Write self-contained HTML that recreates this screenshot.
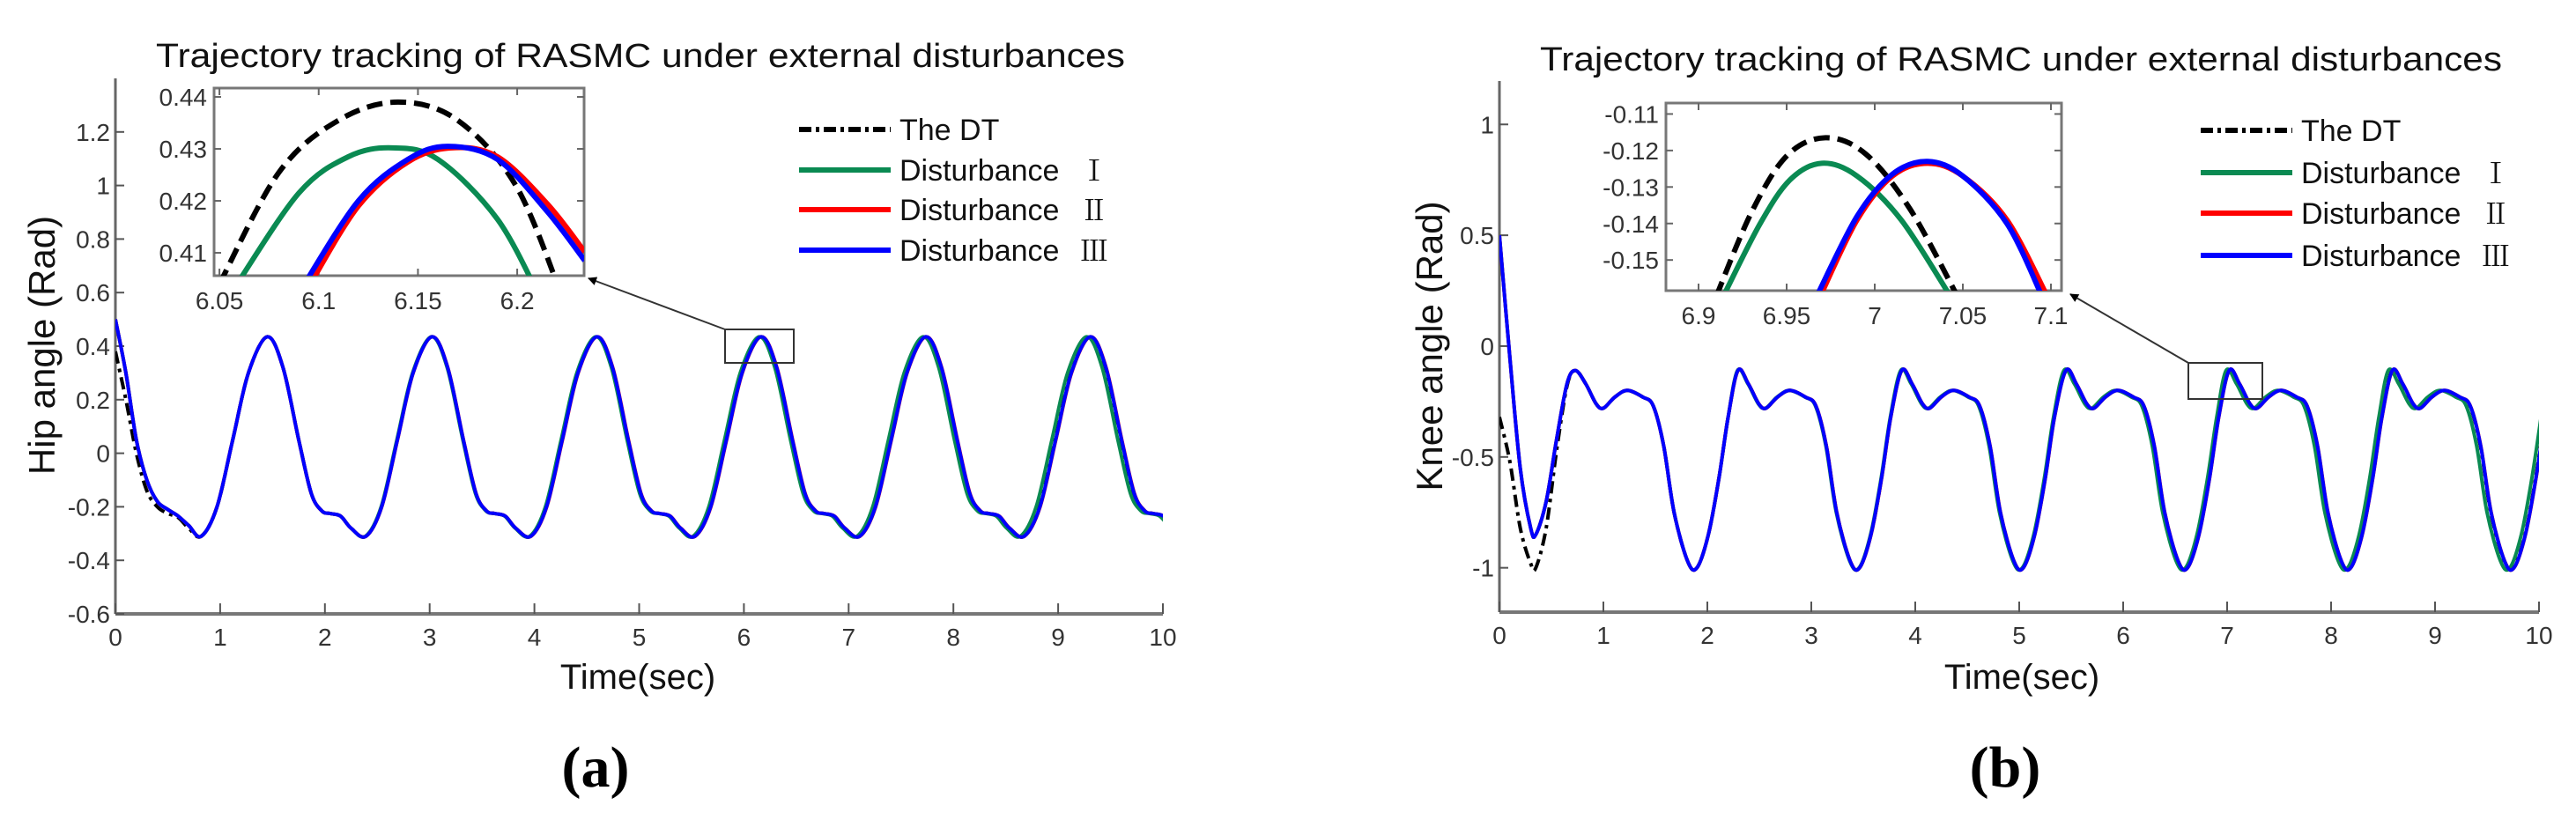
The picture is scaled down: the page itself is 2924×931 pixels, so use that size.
<!DOCTYPE html>
<html><head><meta charset="utf-8">
<style>
html,body{margin:0;padding:0;background:#fff;}
svg{display:block;font-family:"Liberation Sans",sans-serif;}
.tk{font-size:28px;fill:#333;}
.ttl{font-size:38px;fill:#111;}
.lg{font-size:34px;fill:#111;}
.rn{font-family:"Noto Serif CJK SC","Liberation Serif",serif;font-size:32px;}
</style></head>
<body>
<svg id="fig" width="2924" height="931" viewBox="0 0 2924 931" xmlns="http://www.w3.org/2000/svg">
<defs>
<clipPath id="clipA"><rect x="131" y="80" width="1189" height="620"/></clipPath>
<clipPath id="clipB"><rect x="1702" y="85" width="1180" height="612"/></clipPath>
<clipPath id="clipAi"><rect x="243" y="100" width="420" height="213"/></clipPath>
<clipPath id="clipBi"><rect x="1891" y="117" width="449" height="213"/></clipPath>
<marker id="arr" markerWidth="10" markerHeight="10" refX="9" refY="5" orient="auto" markerUnits="userSpaceOnUse"><path d="M0,0 L10,5 L0,10 Z" fill="#000"/></marker>
</defs>
<g id="root"></g>
</svg>
<script>
// ---------- HIP data (panel a) ----------
const hipStartT = [0, 0.1, 0.2, 0.3, 0.4, 0.5, 0.6, 0.7];
const hipStartDT = [0.38, 0.2, 0.0, -0.14, -0.2, -0.225, -0.24, -0.28];
const hipStartDist = [0.5, 0.3, 0.05, -0.1, -0.18, -0.21, -0.235, -0.27];
const hipTroughsDT = [0.82, 2.39, 3.963, 5.53, 7.103, 8.672];
const hipTroughsD1 = [0.82, 2.387, 3.955, 5.515, 7.08, 8.64];
const hipTroughsD2 = [0.82, 2.393, 3.968, 5.535, 7.108, 8.678];
const hipTroughsD3 = [0.82, 2.392, 3.966, 5.533, 7.106, 8.676];
const hipTroughValue = -0.31;
const hipCycleOffsets = [0.15, 0.30, 0.45, 0.63, 0.78, 0.93, 1.05, 1.15, 1.23, 1.33, 1.43];
const hipCycleValues = [-0.2, 0.05, 0.3, 0.435, 0.32, 0.05, -0.15, -0.215, -0.225, -0.235, -0.28];
const hipXTicks = [0,1,2,3,4,5,6,7,8,9,10];
const hipYTicks = [-0.6,-0.4,-0.2,0,0.2,0.4,0.6,0.8,1,1.2];
const hipYTickLabels = ["-0.6","-0.4","-0.2","0","0.2","0.4","0.6","0.8","1","1.2"];
// hip inset
const hipInT_DT = [6.05, 6.08, 6.11, 6.14, 6.17, 6.2, 6.225];
const hipInV_DT = [0.404, 0.4255, 0.4355, 0.439, 0.4355, 0.4225, 0.399];
const hipInT_D1 = [6.058, 6.09, 6.115, 6.137, 6.16, 6.19, 6.212];
const hipInV_D1 = [0.4035, 0.4215, 0.4285, 0.4302, 0.428, 0.4165, 0.401];
const hipInT_D2 = [6.095, 6.12, 6.145, 6.167, 6.19, 6.215, 6.234];
const hipInV_D2 = [0.4035, 0.419, 0.4275, 0.4302, 0.4285, 0.4195, 0.4102];
const hipInT_D3 = [6.092, 6.12, 6.145, 6.165, 6.19, 6.215, 6.234];
const hipInV_D3 = [0.4035, 0.42, 0.428, 0.4305, 0.428, 0.418, 0.4085];
const hipInXTicks = [6.05, 6.1, 6.15, 6.2];
const hipInYTicks = [0.41, 0.42, 0.43, 0.44];

// ---------- KNEE data (panel b) ----------
const kneeStartT = [0, 0.1, 0.2, 0.3, 0.35, 0.45, 0.55, 0.65];
const kneeStartDT = [-0.32, -0.52, -0.82, -0.98, -1.0, -0.82, -0.47, -0.18];
const kneeStartDist = [0.5, -0.05, -0.55, -0.82, -0.85, -0.7, -0.42, -0.17];
const kneePeaksDT = [0.73, 2.294, 3.868, 5.447, 7.017, 8.586];
const kneePeaksD1 = [0.73, 2.29, 3.86, 5.43, 6.99, 8.55];
const kneePeaksD2 = [0.73, 2.295, 3.87, 5.45, 7.02, 8.59];
const kneePeaksD3 = [0.73, 2.294, 3.869, 5.449, 7.019, 8.589];
const kneePeakValue = -0.11;
const kneeCycleOffsets = [0.1, 0.2, 0.27, 0.38, 0.5, 0.65, 0.75, 0.85, 0.95, 1.08, 1.17, 1.28, 1.38, 1.47];
const kneeCycleValues = [-0.17, -0.26, -0.28, -0.23, -0.2, -0.23, -0.27, -0.45, -0.75, -0.97, -1.0, -0.85, -0.6, -0.32];
const kneeXTicks = [0,1,2,3,4,5,6,7,8,9,10];
const kneeYTicks = [-1, -0.5, 0, 0.5, 1];
const kneeYTickLabels = ["-1","-0.5","0","0.5","1"];
// knee inset
const kneeInT_DT = [6.91, 6.93, 6.95, 6.972, 6.995, 7.02, 7.047];
const kneeInV_DT = [-0.16, -0.137, -0.1215, -0.1165, -0.121, -0.136, -0.16];
const kneeInT_D1 = [6.914, 6.935, 6.952, 6.97, 6.99, 7.015, 7.043];
const kneeInV_D1 = [-0.16, -0.14, -0.128, -0.1235, -0.127, -0.139, -0.16];
const kneeInT_D2 = [6.969, 6.99, 7.01, 7.03, 7.05, 7.075, 7.098];
const kneeInV_D2 = [-0.16, -0.139, -0.127, -0.1235, -0.127, -0.139, -0.16];
const kneeInT_D3 = [6.967, 6.99, 7.01, 7.03, 7.05, 7.075, 7.095];
const kneeInV_D3 = [-0.16, -0.138, -0.1265, -0.123, -0.127, -0.14, -0.16];
const kneeInXTicks = [6.9, 6.95, 7, 7.05, 7.1];
const kneeInYTicks = [-0.15, -0.14, -0.13, -0.12, -0.11];

const NS = "http://www.w3.org/2000/svg";
const root = document.getElementById("root");
function mk(tag, attrs, parent) {
  const e = document.createElementNS(NS, tag);
  for (const k in attrs) e.setAttribute(k, attrs[k]);
  (parent || root).appendChild(e);
  return e;
}
function smoothPath(pts) {
  let d = "M" + pts[0][0].toFixed(2) + "," + pts[0][1].toFixed(2);
  for (let i = 0; i < pts.length - 1; i++) {
    const p0 = pts[Math.max(0, i - 1)], p1 = pts[i], p2 = pts[i + 1], p3 = pts[Math.min(pts.length - 1, i + 2)];
    const c1x = p1[0] + (p2[0] - p0[0]) / 6, c1y = p1[1] + (p2[1] - p0[1]) / 6;
    const c2x = p2[0] - (p3[0] - p1[0]) / 6, c2y = p2[1] - (p3[1] - p1[1]) / 6;
    d += " C" + c1x.toFixed(2) + "," + c1y.toFixed(2) + " " + c2x.toFixed(2) + "," + c2y.toFixed(2) + " " + p2[0].toFixed(2) + "," + p2[1].toFixed(2);
  }
  return d;
}
function hipSeries(startV, troughs) {
  const pts = [];
  for (let i = 0; i < hipStartT.length; i++) pts.push([hipStartT[i], startV[i]]);
  for (let c = 0; c < troughs.length; c++) {
    pts.push([troughs[c], hipTroughValue]);
    for (let j = 0; j < hipCycleOffsets.length; j++) pts.push([troughs[c] + hipCycleOffsets[j], hipCycleValues[j]]);
  }
  return pts;
}
function kneeSeries(startV, peaks) {
  const pts = [];
  for (let i = 0; i < kneeStartT.length; i++) pts.push([kneeStartT[i], startV[i]]);
  for (let c = 0; c < peaks.length; c++) {
    pts.push([peaks[c], kneePeakValue]);
    for (let j = 0; j < kneeCycleOffsets.length; j++) pts.push([peaks[c] + kneeCycleOffsets[j], kneeCycleValues[j]]);
  }
  return pts;
}
function zipPts(ts, vs) { return ts.map((t, i) => [t, vs[i]]); }
const COLORS = { dt: "#000000", d1: "#0a8a52", d2: "#ff0000", d3: "#0000ff" };

// ---------- Axis functions ----------
const axA = { x: t => 131 + t * 118.9, y: v => 697 - (v + 0.6) * 304 };
const axB = { x: t => 1702 + t * 118.0, y: v => 695 - (v + 1.2) * 251.7 };
const axAi = { x: t => 243 + (t - 6.0473) / (6.2337 - 6.0473) * 420, y: v => 100 + (0.4417 - v) / (0.4417 - 0.4056) * 213 };
const axBi = { x: t => 1891 + (t - 6.8815) / (7.106 - 6.8815) * 449, y: v => 117 + (-0.107 - v) / (-0.107 + 0.1584) * 213 };

function drawLine(ax, pts, color, width, dash, clip, name) {
  const p = mk("path", { d: smoothPath(pts.map(q => [ax.x(q[0]), ax.y(q[1])])), fill: "none", stroke: color, "stroke-width": width, "stroke-linejoin": "round", "clip-path": "url(#" + clip + ")" });
  if (dash) p.setAttribute("stroke-dasharray", dash);
  
  
  return p;
}

function panelMain(ax, x0, x1, yTop, yBot, xTicks, yTicks, yLabels, prefix) {
  const g = mk("g", {});
  
  
  mk("line", { x1: x0, y1: yTop, x2: x0, y2: yBot, stroke: "#666", "stroke-width": 3 }, g);
  mk("line", { x1: x0, y1: yBot, x2: x1, y2: yBot, stroke: "#777", "stroke-width": 4 }, g);
  xTicks.forEach(t => {
    mk("line", { x1: ax.x(t), y1: yBot, x2: ax.x(t), y2: yBot - 12, stroke: "#555", "stroke-width": 2 }, g);
    const tx = mk("text", { x: ax.x(t), y: yBot + 36, "text-anchor": "middle", class: "tk" }, g);
    tx.textContent = String(t);
    
    
  });
  yTicks.forEach((v, i) => {
    mk("line", { x1: x0, y1: ax.y(v), x2: x0 + 10, y2: ax.y(v), stroke: "#555", "stroke-width": 2 }, g);
    const ty = mk("text", { x: x0 - 6, y: ax.y(v) + 10, "text-anchor": "end", class: "tk" }, g);
    ty.textContent = yLabels[i];
    
    
  });
}
function panelInset(ax, bx, by, bw, bh, xTicks, yTicks, prefix, decimals) {
  const g = mk("g", {});
  
  
  mk("rect", { x: bx, y: by, width: bw, height: bh, fill: "#fff", stroke: "#777", "stroke-width": 3 }, g);
  xTicks.forEach(t => {
    mk("line", { x1: ax.x(t), y1: by + bh, x2: ax.x(t), y2: by + bh - 8, stroke: "#666", "stroke-width": 2 }, g);
    mk("line", { x1: ax.x(t), y1: by, x2: ax.x(t), y2: by + 8, stroke: "#666", "stroke-width": 2 }, g);
    const tx = mk("text", { x: ax.x(t), y: by + bh + 38, "text-anchor": "middle", class: "tk" }, g);
    tx.textContent = String(t);
    
    
  });
  yTicks.forEach(v => {
    mk("line", { x1: bx, y1: ax.y(v), x2: bx + 8, y2: ax.y(v), stroke: "#666", "stroke-width": 2 }, g);
    mk("line", { x1: bx + bw, y1: ax.y(v), x2: bx + bw - 8, y2: ax.y(v), stroke: "#666", "stroke-width": 2 }, g);
    const ty = mk("text", { x: bx - 8, y: ax.y(v) + 10, "text-anchor": "end", class: "tk" }, g);
    ty.textContent = v.toFixed(decimals);
    
    
  });
}
function txt(x, y, s, cls, name, extra) {
  const t = mk("text", Object.assign({ x: x, y: y, class: cls }, extra || {}));
  t.textContent = s;
  
  
  return t;
}
function legend(x, ys, prefix) {
  const entries = [["The DT", "", COLORS.dt, "14,5,4,5"], ["Disturbance ", "\u2160", COLORS.d1, ""], ["Disturbance ", "\u2161", COLORS.d2, ""], ["Disturbance ", "\u2162", COLORS.d3, ""]];
  entries.forEach((e, i) => {
    const g = mk("g", {});
    
    
    const l = mk("line", { x1: x, y1: ys[i], x2: x + 104, y2: ys[i], stroke: e[2], "stroke-width": 6 }, g);
    if (e[3]) l.setAttribute("stroke-dasharray", e[3]);
    const t = mk("text", { x: x + 114, y: ys[i] + 12, class: "lg" }, g);
    t.appendChild(document.createTextNode(e[0]));
    if (e[1]) {
      const sp = mk("tspan", { class: "rn", dx: "14" }, t);
      sp.textContent = e[1];
    }
  });
}

// Panel a
panelMain(axA, 131, 1320, 89, 697, hipXTicks, hipYTicks, hipYTickLabels, "hip");
drawLine(axA, hipSeries(hipStartDT, hipTroughsDT), COLORS.dt, 4, "14,6,4,6", "clipA", "hip-dt-line");
drawLine(axA, hipSeries(hipStartDist, hipTroughsD1), COLORS.d1, 4, "", "clipA", "hip-disturbance-1-line");
drawLine(axA, hipSeries(hipStartDist, hipTroughsD2), COLORS.d2, 4, "", "clipA", "hip-disturbance-2-line");
drawLine(axA, hipSeries(hipStartDist, hipTroughsD3), COLORS.d3, 4, "", "clipA", "hip-disturbance-3-line");
const boxA = mk("rect", { x: 823, y: 374, width: 78, height: 38, fill: "none", stroke: "#333", "stroke-width": 2 });


const arrA = mk("line", { x1: 823, y1: 374, x2: 668, y2: 316, stroke: "#333", "stroke-width": 2, "marker-end": "url(#arr)" });


panelInset(axAi, 243, 100, 420, 213, hipInXTicks, hipInYTicks, "hip", 2);
drawLine(axAi, zipPts(hipInT_DT, hipInV_DT), COLORS.dt, 6, "18,9", "clipAi", "hip-inset-dt-line");
drawLine(axAi, zipPts(hipInT_D1, hipInV_D1), COLORS.d1, 6, "", "clipAi", "hip-inset-disturbance-1-line");
drawLine(axAi, zipPts(hipInT_D2, hipInV_D2), COLORS.d2, 6, "", "clipAi", "hip-inset-disturbance-2-line");
drawLine(axAi, zipPts(hipInT_D3, hipInV_D3), COLORS.d3, 6, "", "clipAi", "hip-inset-disturbance-3-line");
legend(907, [147, 193, 238, 284], "hip");
txt(727, 76, "Trajectory tracking of RASMC under external disturbances", "ttl", "hip-chart-title", { "text-anchor": "middle", textLength: "1100", lengthAdjust: "spacingAndGlyphs" });
txt(0, 0, "Hip angle (Rad)", "ttl", "hip-y-axis-title", { "text-anchor": "middle", transform: "translate(62,392) rotate(-90)", style: "font-size:42px" });
txt(724, 782, "Time(sec)", "ttl", "hip-x-axis-title", { "text-anchor": "middle", style: "font-size:40px" });
txt(676, 893, "(a)", "cap", "panel-a-caption", { "text-anchor": "middle", style: "font-family:'Liberation Serif',serif;font-size:66px;font-weight:bold" });

// Panel b
panelMain(axB, 1702, 2882, 92, 695, kneeXTicks, kneeYTicks, kneeYTickLabels, "knee");
drawLine(axB, kneeSeries(kneeStartDT, kneePeaksDT), COLORS.dt, 4, "14,6,4,6", "clipB", "knee-dt-line");
drawLine(axB, kneeSeries(kneeStartDist, kneePeaksD1), COLORS.d1, 4, "", "clipB", "knee-disturbance-1-line");
drawLine(axB, kneeSeries(kneeStartDist, kneePeaksD2), COLORS.d2, 4, "", "clipB", "knee-disturbance-2-line");
drawLine(axB, kneeSeries(kneeStartDist, kneePeaksD3), COLORS.d3, 4, "", "clipB", "knee-disturbance-3-line");
const boxB = mk("rect", { x: 2484, y: 412, width: 84, height: 41, fill: "none", stroke: "#333", "stroke-width": 2 });


const arrB = mk("line", { x1: 2484, y1: 412, x2: 2350, y2: 334, stroke: "#333", "stroke-width": 2, "marker-end": "url(#arr)" });


panelInset(axBi, 1891, 117, 449, 213, kneeInXTicks, kneeInYTicks, "knee", 2);
drawLine(axBi, zipPts(kneeInT_DT, kneeInV_DT), COLORS.dt, 6, "18,9", "clipBi", "knee-inset-dt-line");
drawLine(axBi, zipPts(kneeInT_D1, kneeInV_D1), COLORS.d1, 6, "", "clipBi", "knee-inset-disturbance-1-line");
drawLine(axBi, zipPts(kneeInT_D2, kneeInV_D2), COLORS.d2, 6, "", "clipBi", "knee-inset-disturbance-2-line");
drawLine(axBi, zipPts(kneeInT_D3, kneeInV_D3), COLORS.d3, 6, "", "clipBi", "knee-inset-disturbance-3-line");
legend(2498, [148, 196, 242, 290], "knee");
txt(2294, 80, "Trajectory tracking of RASMC under external disturbances", "ttl", "knee-chart-title", { "text-anchor": "middle", textLength: "1092", lengthAdjust: "spacingAndGlyphs" });
txt(0, 0, "Knee angle (Rad)", "ttl", "knee-y-axis-title", { "text-anchor": "middle", transform: "translate(1637,393) rotate(-90)", style: "font-size:42px" });
txt(2295, 782, "Time(sec)", "ttl", "knee-x-axis-title", { "text-anchor": "middle", style: "font-size:40px" });
txt(2276, 893, "(b)", "cap", "panel-b-caption", { "text-anchor": "middle", style: "font-family:'Liberation Serif',serif;font-size:66px;font-weight:bold" });
</script>
</body></html>
